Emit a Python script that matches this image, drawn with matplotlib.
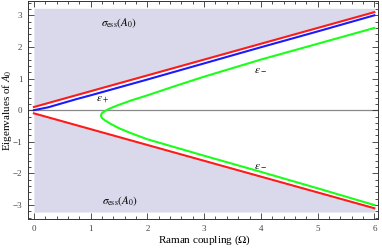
import numpy as np
import matplotlib
matplotlib.use("Agg")
import matplotlib.pyplot as plt
from matplotlib.ticker import MultipleLocator

plt.rcParams['font.family'] = ['Liberation Serif', 'DejaVu Serif']
plt.rcParams['mathtext.fontset'] = 'stix'

# essential spectrum edges (red lines)
omega_red = [0, 1, 2, 3, 4, 5, 6]
ess_upper = [0.1, 0.6, 1.1, 1.6, 2.1, 2.6, 3.1]
ess_lower = [-0.1, -0.6, -1.1, -1.6, -2.1, -2.6, -3.1]
ess_top = 3.22
ess_bottom = -3.22

# eps_+ (blue)
omega_plus = [0, 0.25, 0.5, 0.75, 1, 1.5, 2, 3, 4, 5, 6]
eps_plus = [0, 0.09, 0.22, 0.35, 0.47, 0.72, 0.97, 1.48, 1.99, 2.49, 3.0]

# eps_- (green), traced from lower end, round the turning point, to upper end
omega_minus = [6, 5, 4, 3, 2.5, 2, 1.7, 1.5, 1.35, 1.25, 1.2, 1.18,
               1.2, 1.25, 1.3, 1.4, 1.5, 1.7, 2, 2.5, 3, 4, 5, 6]
eps_minus = [-3.0, -2.47, -1.95, -1.44, -1.18, -0.92, -0.72, -0.57, -0.43, -0.32, -0.25, -0.17,
             -0.09, -0.03, 0.02, 0.1, 0.17, 0.3, 0.47, 0.77, 1.06, 1.6, 2.1, 2.6]

fig = plt.figure(figsize=(3.82, 2.48), dpi=100)
ax = fig.add_axes([0.073, 0.117, 0.917, 0.88])

shade = '#d9d9eb'
ax.fill_between(omega_red, ess_upper, ess_top, color=shade, lw=0)
ax.fill_between(omega_red, ess_bottom, ess_lower, color=shade, lw=0)

ax.axhline(0, color='#888888', lw=0.9, zorder=1)

ax.plot(omega_red, ess_upper, color='#ff1a1a', lw=1.5, zorder=3)
ax.plot(omega_red, ess_lower, color='#ff1a1a', lw=1.5, zorder=3)
ax.plot(omega_plus, eps_plus, color='#1a1aff', lw=1.5, zorder=3)
ax.plot(omega_minus, eps_minus, color='#1aff1a', lw=1.5, zorder=3)

ax.text(1.5, 2.75, r'$\sigma_{\mathrm{ess}}(A_0)$', fontsize=8, ha='center', va='center')
ax.text(1.52, -2.87, r'$\sigma_{\mathrm{ess}}(A_0)$', fontsize=8, ha='center', va='center')
ax.text(1.2, 0.34, r'$\varepsilon_+$', fontsize=8, ha='center', va='center')
ax.text(4.0, 1.28, r'$\varepsilon_-$', fontsize=8, ha='center', va='center')
ax.text(4.0, -1.76, r'$\varepsilon_-$', fontsize=8, ha='center', va='center')

ax.set_xlim(-0.106, 6.067)
ax.set_ylim(-3.44, 3.46)
ax.xaxis.set_major_locator(MultipleLocator(1))
ax.xaxis.set_minor_locator(MultipleLocator(0.2))
ax.yaxis.set_major_locator(MultipleLocator(1))
ax.yaxis.set_minor_locator(MultipleLocator(0.2))
ax.tick_params(which='both', direction='in', top=True, right=True,
               labelsize=6.5, labelcolor='#444444', color='#333333', width=0.6)
ax.tick_params(which='major', length=4, pad=4)
ax.tick_params(which='minor', length=2)
for s in ax.spines.values():
    s.set_linewidth(0.7)
    s.set_color('#333333')

ax.set_xlabel(r'Raman coupling ($\mathit{\Omega}$)', fontsize=8)
ax.set_ylabel(r'Eigenvalues of $A_0$', fontsize=8)
# place labels where the reference has them
ax.xaxis.set_label_coords(0.505, -0.066)
ax.yaxis.set_label_coords(-0.04, 0.5)

fig.savefig('out.png', dpi=100)
